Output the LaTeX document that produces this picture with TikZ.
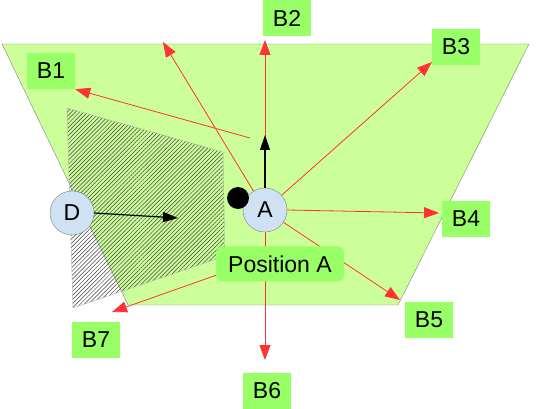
\documentclass[tikz,border=0pt]{standalone}
\usepackage{fontspec}
\setmainfont{Liberation Sans}
\usetikzlibrary{arrows.meta,patterns.meta}
\definecolor{trap}{RGB}{204,255,153}
\definecolor{lab}{RGB}{153,255,102}
\definecolor{circ}{RGB}{207,226,243}
\definecolor{arr}{RGB}{255,51,51}
\begin{document}
\begin{tikzpicture}[x=1pt,y=-1pt,
  font=\fontsize{23}{27}\selectfont,
  lbl/.style={fill=lab, minimum width=48pt, minimum height=36pt, inner sep=0pt},
  circnode/.style={circle, fill=circ, draw=gray, minimum size=44pt, inner sep=0pt},
  redarr/.style={draw=arr, line width=0.8pt, -{Triangle[length=15pt,width=11pt,fill=arr]}},
  blkarr/.style={black, line width=1.2pt, -{Triangle[length=15pt,width=10pt]}}]
\useasboundingbox (0,0) rectangle (539,409);
% background trapezoid
\draw[fill=trap, draw=gray] (2,44) -- (529,44) -- (398,305) -- (128,305) -- cycle;
% hatched region
\draw[draw=gray!60, pattern={Lines[angle=45, distance=2.9pt, line width=0.5pt]}, pattern color=black!75]
  (67,108) -- (223,152) -- (225,256) -- (73,308) -- cycle;
% labels
\node[lbl] (B1) at (51,71) {B1};
\node[lbl] (B2) at (287,18) {B2};
\node[lbl] (B3) at (456,47) {B3};
\node[lbl] (B4) at (466,219) {B4};
\node[lbl] (B5) at (429,320) {B5};
\node[lbl] (B6) at (267,391) {B6};
\node[lbl] (B7) at (96,340) {B7};
% nodes
\node[circnode] (A) at (265,210) {A};
\node[circnode] (D) at (72,213) {D};
\node[circle, fill=black, inner sep=0pt, minimum size=22pt] (dot) at (238,198) {};
% coordinates
\coordinate (s1) at (250,138);
\coordinate (t0) at (163,42);
\coordinate (t2) at (265,40);
\coordinate (t3) at (432,62);
\coordinate (t4) at (439,213);
\coordinate (t5) at (400,300);
\coordinate (t6) at (265,360);
\coordinate (t7) at (112,312);
\coordinate (ba) at (265,135);
\coordinate (bd) at (178,218);
% red arrows
\draw[redarr] (s1) -- (B1.south east);
\draw[redarr] (A) -- (t0);
\draw[redarr] (A.north) -- (t2);
\draw[redarr] (A) -- (t3);
\draw[redarr] (A.east) -- (t4);
\draw[redarr] (A) -- (t5);
\draw[redarr] (A.south) -- (t6);
% black arrows
\draw[blkarr] (A.north) -- (ba);
\draw[blkarr] (D.east) -- (bd);
% position label
\node[fill=lab, rounded corners=5pt, minimum width=128pt, minimum height=35pt, inner sep=0pt] (PA) at (280,264) {Position A};
\draw[redarr] (PA.190) -- (t7);
\end{tikzpicture}
\end{document}
